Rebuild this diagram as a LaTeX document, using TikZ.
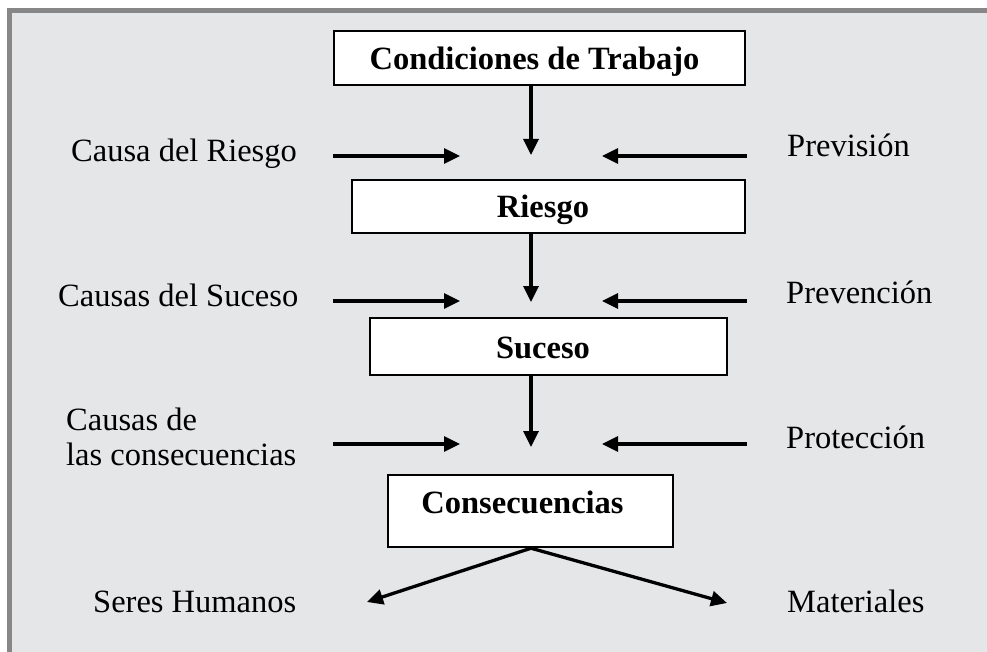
\documentclass[tikz,border=0pt]{standalone}
\usepackage{fontspec}
\setmainfont{Liberation Serif}
\usetikzlibrary{arrows.meta}
\definecolor{bgc}{HTML}{E5E6E8}
\definecolor{frc}{HTML}{878787}
\begin{document}
\begin{tikzpicture}[x=1pt,y=-1pt,
  box/.style={draw=black, line width=2.4pt, fill=white, inner sep=0pt,
    font=\fontsize{32.5}{35}\selectfont\bfseries},
  lbl/.style={inner sep=0pt, anchor=base west, font=\fontsize{32.5}{35}\selectfont},
  arr/.style={line width=3.3pt, -{Triangle[length=16pt,width=15pt]}}]
\useasboundingbox (0,0) rectangle (987,652);
% background and frame
\fill[white] (0,0) rectangle (987,652);
\fill[bgc] (9.5,10.5) rectangle (987,652);
\draw[frc, line width=5pt] (9.5,652) -- (9.5,10.5) -- (987,10.5);
% axis
\coordinate (ax) at (531,0);
% boxes
\node[box, minimum width=411pt, minimum height=54pt, text height=24pt, text depth=0pt]
  (c1) at (539.5,58) {\hspace*{-10pt}Condiciones de Trabajo};
\node[box, minimum width=393pt, minimum height=53pt, text height=22pt, text depth=0pt]
  (c2) at (548.5,206.5) {\hspace*{-11pt}Riesgo};
\node[box, minimum width=357pt, minimum height=57pt, text height=23pt, text depth=0pt]
  (c3) at (548.5,346.5) {\hspace*{-11pt}Suceso};
\node[box, minimum width=285pt, minimum height=72pt, text height=5pt, text depth=0pt]
  (c4) at (530.5,511) {\hspace*{-16pt}Consecuencias};
% side labels
\node[lbl] (l1) at (71,162) {Causa del Riesgo};
\node[lbl] (r1) at (787,157) {Previsión};
\node[lbl] (l2) at (58,306) {Causas del Suceso};
\node[lbl] (r2) at (786,303) {Prevención};
\node[inner sep=0pt, anchor=north west, align=left, font=\fontsize{32.5}{35}\selectfont]
  (l3) at (66,408) {Causas de\\las consecuencias};
\node[lbl] (r3) at (786,448) {Protección};
\node[lbl] (s1) at (93,612) {Seres Humanos};
\node[lbl] (s2) at (787,612) {Materiales};
% coordinates for arrow ends
\coordinate (t1) at (531,155);
\coordinate (t2) at (531,302);
\coordinate (t3) at (531,447);
\foreach \n/\y in {1/156,2/301,3/444}{
  \coordinate (la\n) at (333,\y);
  \coordinate (lb\n) at (460,\y);
  \coordinate (ra\n) at (747,\y);
  \coordinate (rb\n) at (602,\y);
}
\coordinate (h1) at (367,602);
\coordinate (h2) at (727,603);
% vertical arrows
\draw[arr] (c1.south -| ax) -- (t1);
\draw[arr] (c2.south -| ax) -- (t2);
\draw[arr] (c3.south -| ax) -- (t3);
% horizontal arrows
\foreach \n in {1,2,3}{
  \draw[arr] (la\n) -- (lb\n);
  \draw[arr] (ra\n) -- (rb\n);
}
% bottom arrows
\draw[arr] (c4.south -| ax) -- (h1);
\draw[arr] (c4.south -| ax) -- (h2);
\end{tikzpicture}
\end{document}
